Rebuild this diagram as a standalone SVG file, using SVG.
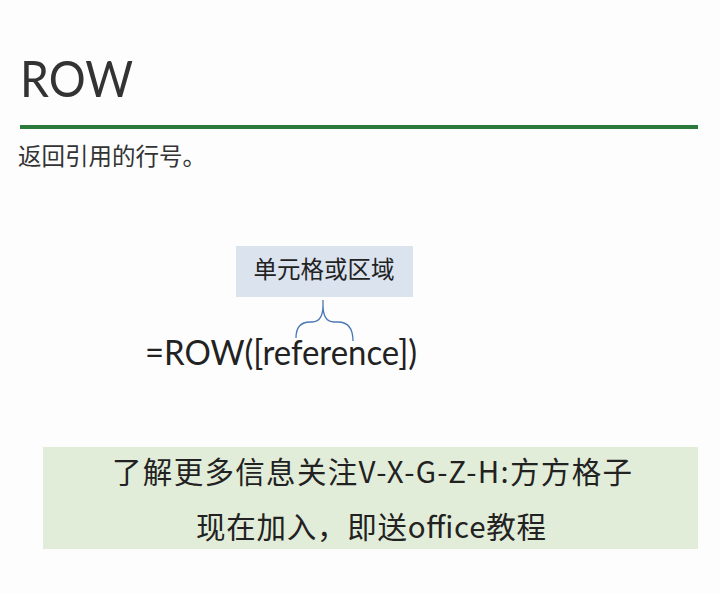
<svg xmlns="http://www.w3.org/2000/svg" width="720" height="594" viewBox="0 0 720 594">
<style>
.t{font-family:Lato,"Noto Sans","Noto Sans CJK SC",sans-serif;fill:#222}
.c{font-family:"Noto Sans CJK SC","Noto Sans",sans-serif;fill:#222}
</style>
<rect x="0" y="0" width="720" height="594" fill="#fdfdfd"/>
<g id="title">
<text class="t" x="20" y="97" font-size="50" style="fill:#333" textLength="113" lengthAdjust="spacingAndGlyphs">ROW</text>
<line x1="20" y1="127" x2="698" y2="127" stroke="#2b7a3b" stroke-width="4"/>
<text class="c" x="18" y="165" font-size="23.5" style="fill:#333">返回引用的行号。</text>
</g>
<g id="label">
<rect x="236" y="246" width="177" height="51" fill="#dbe3ef"/>
<text class="c" x="324" y="278" font-size="23.5" text-anchor="middle">单元格或区域</text>
</g>
<g id="connectors">
<path d="M296 338 Q296 322 310 322 L312 322 Q323 322 323 305 L323 300 M323 305 Q323 322 334 322 L338 322 Q353 322 353 341" fill="none" stroke="#4a78b5" stroke-width="1.3"/>
</g>
<g id="formula">
<text class="t" x="145" y="365" font-size="35" textLength="272" lengthAdjust="spacingAndGlyphs">=ROW([reference])</text>
</g>
<g id="banner">
<rect x="43" y="447" width="655" height="102" fill="#e2edd9"/>
<text class="c" x="372" y="483" font-size="29.5" text-anchor="middle" textLength="520">了解更多信息关注V-X-G-Z-H:方方格子</text>
<text class="c" x="371" y="538" font-size="29.5" text-anchor="middle" textLength="350">现在加入，即送office教程</text>
</g>
</svg>
